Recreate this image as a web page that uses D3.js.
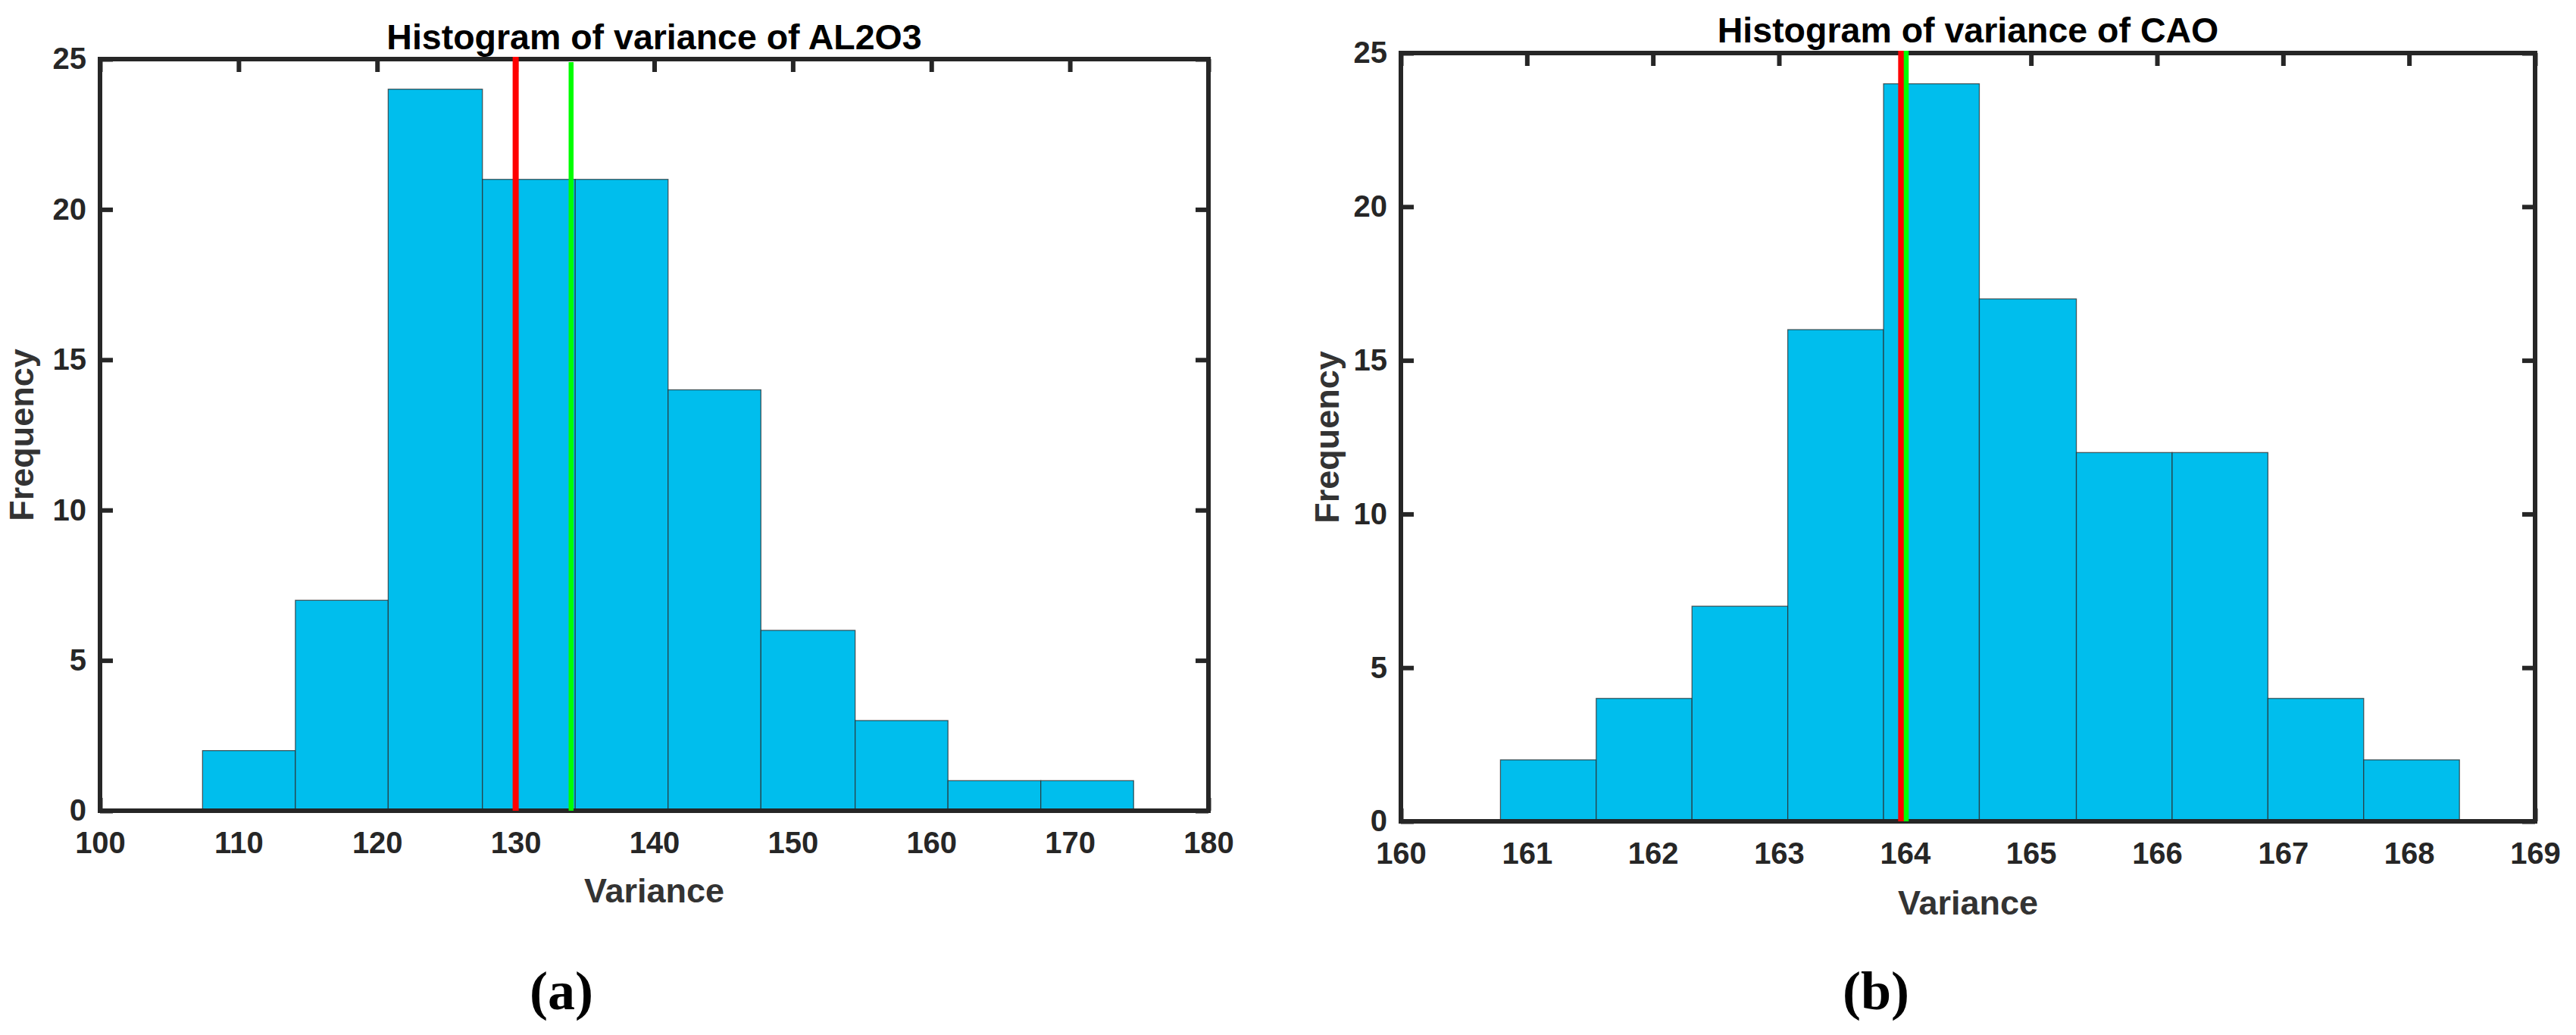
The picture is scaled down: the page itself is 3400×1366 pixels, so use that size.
<!DOCTYPE html>
<html>
<head>
<meta charset="utf-8">
<script src="https://cdnjs.cloudflare.com/ajax/libs/d3/7.8.5/d3.min.js"></script>
<style>
    body { margin: 0; background: #fff; }
    svg { display: block; }
    .tick line { stroke: #262626; stroke-width: 6; }
    .tick text { font-family: 'Liberation Sans', Arial, Helvetica, sans-serif; font-weight: bold; font-size: 40px; fill: #262626; }
    .title { font-family: 'Liberation Sans', Arial, Helvetica, sans-serif; font-weight: bold; font-size: 46.5px; fill: #000; }
    .label { font-family: 'Liberation Sans', Arial, Helvetica, sans-serif; font-weight: bold; font-size: 45px; fill: #333; }
    .caption { font-family: 'Palatino Linotype', 'Book Antiqua', Palatino, 'Liberation Serif', serif; font-weight: bold; font-size: 72px; fill: #000; }
    .bar { fill: #00beed; stroke: #2b2b2b; stroke-width: 1.3; stroke-opacity: 0.75; }
    .frame { fill: none; stroke: #262626; stroke-width: 6; }
</style>
</head>
<body>
<svg id="chart" width="3400" height="1366"></svg>
<script>
// values
var al2o3Edges = [ 107.4, 114.1, 120.8, 127.6, 134.3, 141.0, 147.7, 154.5, 161.2, 167.9, 174.6 ];
var al2o3Counts = [ 2, 7, 24, 21, 21, 14, 6, 3, 1, 1 ];
var al2o3Marks = [ 130.0, 134.0 ];   // red, green
var al2o3Ticks = [ 100, 110, 120, 130, 140, 150, 160, 170, 180 ];

var caoEdges = [ 160.79, 161.55, 162.31, 163.07, 163.83, 164.59, 165.36, 166.12, 166.88, 167.64, 168.40 ];
var caoCounts = [ 2, 4, 7, 16, 24, 17, 12, 12, 4, 2 ];
var caoMarks = [ 163.97, 164.01 ];   // red, green
var caoTicks = [ 160, 161, 162, 163, 164, 165, 166, 167, 168, 169 ];

var freqTicks = [ 0, 5, 10, 15, 20, 25 ];
var titles = [ 'Histogram of variance of AL2O3', 'Histogram of variance of CAO' ];
var captions = [ '(a)', '(b)' ];

var panels = [
    { edges: al2o3Edges, counts: al2o3Counts, marks: al2o3Marks, ticks: al2o3Ticks, title: titles[0], caption: captions[0],
      left: 132, right: 1595, top: 78, bottom: 1070, titleY: 65, xLabelY: 1191, yLabelX: 44,
      captionX: 741, captionY: 1332, greenInset: 7 },
    { edges: caoEdges, counts: caoCounts, marks: caoMarks, ticks: caoTicks, title: titles[1], caption: captions[1],
      left: 1849, right: 3346, top: 70, bottom: 1084, titleY: 56, xLabelY: 1207, yLabelX: 1767,
      captionX: 2476, captionY: 1332, greenInset: 0 }
];

function drawPanel( svg, p ){
    'use strict';

    var x = d3.scaleLinear().domain( [ p.ticks[0], p.ticks[ p.ticks.length - 1 ] ] ).range( [ p.left, p.right ] ),
        y = d3.scaleLinear().domain( [ 0, 25 ] ).range( [ p.bottom, p.top ] ),
        g = svg.append( 'g' );

    // ticks go in first, the bars cover them (like MATLAB's Layer 'bottom')
    g.append( 'g' )
        .attr( 'transform', 'translate(0,' + p.bottom + ')' )
        .call( d3.axisBottom( x ).tickValues( p.ticks ).tickSize( -17 ).tickPadding( 28 ) );
    g.append( 'g' )
        .attr( 'transform', 'translate(0,' + p.top + ')' )
        .call( d3.axisTop( x ).tickValues( p.ticks ).tickSize( -17 ).tickFormat( '' ) );
    g.append( 'g' )
        .attr( 'transform', 'translate(' + p.left + ',0)' )
        .call( d3.axisLeft( y ).tickValues( freqTicks ).tickSize( -17 ).tickPadding( 18 ) );
    g.append( 'g' )
        .attr( 'transform', 'translate(' + p.right + ',0)' )
        .call( d3.axisRight( y ).tickValues( freqTicks ).tickSize( -17 ).tickFormat( '' ) );
    g.selectAll( '.domain' ).remove();

    g.selectAll( 'rect.bar' )
        .data( p.counts )
        .enter().append( 'rect' )
        .attr( 'class', 'bar' )
        .attr( 'x', function( d, i ){ return x( p.edges[i] ); } )
        .attr( 'width', function( d, i ){ return x( p.edges[i + 1] ) - x( p.edges[i] ); } )
        .attr( 'y', function( d ){ return y( d ); } )
        .attr( 'height', function( d ){ return y( 0 ) - y( d ); } );

    g.append( 'rect' )
        .attr( 'class', 'frame' )
        .attr( 'x', p.left )
        .attr( 'y', p.top )
        .attr( 'width', p.right - p.left )
        .attr( 'height', p.bottom - p.top );

    // mean / median markers
    g.append( 'line' )
        .attr( 'x1', x( p.marks[0] ) ).attr( 'x2', x( p.marks[0] ) )
        .attr( 'y1', y( 25 ) - 3 ).attr( 'y2', y( 0 ) )
        .attr( 'stroke', '#ff0000' ).attr( 'stroke-width', 8 );
    g.append( 'line' )
        .attr( 'x1', x( p.marks[1] ) ).attr( 'x2', x( p.marks[1] ) )
        .attr( 'y1', y( 25 ) - 3 + p.greenInset ).attr( 'y2', y( 0 ) )
        .attr( 'stroke', '#00ff00' ).attr( 'stroke-width', 6.5 );

    g.append( 'text' )
        .attr( 'class', 'title' )
        .attr( 'x', ( p.left + p.right ) / 2 )
        .attr( 'y', p.titleY )
        .attr( 'text-anchor', 'middle' )
        .text( p.title );

    g.append( 'text' )
        .attr( 'class', 'label' )
        .attr( 'x', ( p.left + p.right ) / 2 )
        .attr( 'y', p.xLabelY )
        .attr( 'text-anchor', 'middle' )
        .text( 'Variance' );

    g.append( 'text' )
        .attr( 'class', 'label' )
        .attr( 'transform', 'translate(' + p.yLabelX + ',' + ( p.top + p.bottom ) / 2 + ') rotate(-90)' )
        .attr( 'text-anchor', 'middle' )
        .text( 'Frequency' );

    g.append( 'text' )
        .attr( 'class', 'caption' )
        .attr( 'x', p.captionX )
        .attr( 'y', p.captionY )
        .attr( 'text-anchor', 'middle' )
        .text( p.caption );
}

var svg = d3.select( '#chart' );
panels.forEach( function( p ){
    drawPanel( svg, p );
});
</script>
</body>
</html>
